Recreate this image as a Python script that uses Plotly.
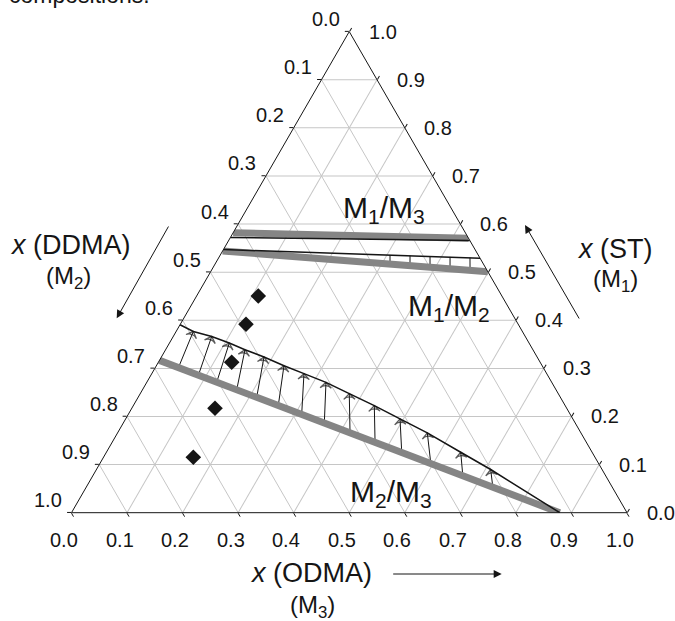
import math
import plotly.graph_objects as go

# ---------------- data (mole fractions: ST = M1, DDMA = M2, ODMA = M3) ----------------
tick_vals = [0.0, 0.1, 0.2, 0.3, 0.4, 0.5, 0.6, 0.7, 0.8, 0.9, 1.0]
tick_text = ["0.0", "0.1", "0.2", "0.3", "0.4", "0.5", "0.6", "0.7", "0.8", "0.9", "1.0"]

# M1/M3 boundary
m13_gray_st = [0.582, 0.5705]
m13_gray_odma = [0.0, 0.4295]
m13_black_st = [0.572, 0.5656]
m13_black_odma = [0.0, 0.4344]

# M1/M2 boundary
m12_gray_st = [0.544, 0.501]
m12_gray_odma = [0.0, 0.499]
m12_black_st = [0.547, 0.529]
m12_black_odma = [0.0, 0.471]

# M1/M2 short tie lines (from gray to black)
m12_tie_start_st = [0.5168, 0.5139, 0.5108, 0.5076, 0.5043]
m12_tie_start_odma = [0.315, 0.3524, 0.39, 0.4276, 0.4653]
m12_tie_end_st = [0.5355, 0.5344, 0.5330, 0.5317, 0.5303]
m12_tie_end_odma = [0.3056, 0.3422, 0.3789, 0.4156, 0.4522]

# M2/M3 boundary
m23_gray_st = [0.3166, 0.0]
m23_gray_odma = [0.0, 0.879]
m23_black_st = [0.3907, 0.3768, 0.3664, 0.3527, 0.3388, 0.3237, 0.3056, 0.289,
                0.271, 0.2475, 0.2226, 0.195, 0.166, 0.1257, 0.0898, 0.0]
m23_black_odma = [0.0, 0.0309, 0.0692, 0.1077, 0.1429, 0.1847, 0.2297, 0.274,
                  0.3226, 0.3763, 0.4338, 0.4939, 0.5575, 0.6378, 0.7097, 0.879]

# M2/M3 arrows (start on gray line, end on black curve)
m23_arrow_start_st = [0.3010, 0.2855, 0.2712, 0.2556, 0.2400, 0.2230, 0.2048,
                      0.1871, 0.1670, 0.1475, 0.1268, 0.1041, 0.0793, 0.0558]
m23_arrow_start_odma = [0.0418, 0.0856, 0.1258, 0.1696, 0.2134, 0.2608, 0.3120,
                        0.3616, 0.4179, 0.4727, 0.5310, 0.5946, 0.6646, 0.7303]
m23_arrow_end_st = [0.3768, 0.3664, 0.3527, 0.3388, 0.3237, 0.3056, 0.289,
                    0.271, 0.2475, 0.2226, 0.195, 0.166, 0.1257, 0.0898]
m23_arrow_end_odma = [0.0309, 0.0692, 0.1077, 0.1429, 0.1847, 0.2297, 0.274,
                      0.3226, 0.3763, 0.4338, 0.4939, 0.5575, 0.6378, 0.7097]

# experimental compositions (diamonds)
exp_st = [0.4505, 0.3916, 0.3126, 0.2170, 0.1152]
exp_odma = [0.1110, 0.1183, 0.1321, 0.1498, 0.1617]

# ---------------- layout geometry ----------------
W, H = 675, 621
TX0 = 71.5          # left vertex (px)
TY0 = 512.7         # bottom edge (px from top)
TW = 555.5          # side length (px)
TH = TW * math.sqrt(3) / 2

dom_x = [TX0 / W, (TX0 + TW) / W]
yc = 1 - (TY0 - TH / 2) / H
dom_y = [yc - TH / H / 2 - 0.004, yc + TH / H / 2 + 0.004]


def paper(st, odma, dx=0.0, dy=0.0):
    px = TX0 + (odma + st / 2) * TW + dx
    py = TY0 - st * TH + dy
    return px / W, 1 - py / H


FONT = "Liberation Sans, Arial, sans-serif"
GRAY = "#858585"
BLACK = "#151515"

fig = go.Figure()


def segs(s_st, s_od, e_st, e_od, head):
    a, c, sz = [], [], []
    for i in range(len(s_st)):
        a += [s_st[i], e_st[i], None]
        c += [s_od[i], e_od[i], None]
        sz += [0, head, 0]
    return a, c, sz


# arrows M2/M3
a, c, sz = segs(m23_arrow_start_st, m23_arrow_start_odma,
                m23_arrow_end_st, m23_arrow_end_odma, 8)
fig.add_trace(go.Scatterternary(
    a=a, c=c, mode="lines+markers",
    line=dict(color=BLACK, width=1),
    marker=dict(symbol="arrow-wide-open", size=sz, angleref="previous",
                color=BLACK, line=dict(color=BLACK, width=1.3)),
    hoverinfo="skip"))

# short tie lines M1/M2
a, c, sz = segs(m12_tie_start_st, m12_tie_start_odma,
                m12_tie_end_st, m12_tie_end_odma, 0)
fig.add_trace(go.Scatterternary(
    a=a, c=c, mode="lines", line=dict(color=BLACK, width=1), hoverinfo="skip"))

# gray boundaries
for st, od in [(m13_gray_st, m13_gray_odma), (m12_gray_st, m12_gray_odma),
               (m23_gray_st, m23_gray_odma)]:
    fig.add_trace(go.Scatterternary(a=st, c=od, mode="lines",
                                    line=dict(color=GRAY, width=7), hoverinfo="skip"))

# black boundaries
for st, od in [(m13_black_st, m13_black_odma), (m12_black_st, m12_black_odma),
               (m23_black_st, m23_black_odma)]:
    fig.add_trace(go.Scatterternary(a=st, c=od, mode="lines",
                                    line=dict(color=BLACK, width=1.5), hoverinfo="skip"))

# experimental points
fig.add_trace(go.Scatterternary(a=exp_st, c=exp_odma, mode="markers",
                                marker=dict(symbol="diamond", size=12, color=BLACK),
                                hoverinfo="skip"))

axis_common = dict(
    tickmode="array", tickvals=tick_vals, showticklabels=False,
    ticks="outside", ticklen=4, tickcolor=BLACK, tickwidth=1,
    linecolor=BLACK, linewidth=1, showline=True,
    showgrid=True, gridcolor="#c6c6c6", gridwidth=1,
    title=dict(text=""), min=0,
)

annotations = []
# tick labels
for v, t in zip(tick_vals, tick_text):
    # left edge: DDMA
    x, y = paper(1 - v, 0.0, -7.5, -12.5)
    annotations.append(dict(x=x, y=y, text=t, xanchor="right", yanchor="middle",
                            showarrow=False, font=dict(size=20, color=BLACK, family=FONT)))
    # right edge: ST
    x, y = paper(v, 1 - v, 17.5, 0)
    annotations.append(dict(x=x, y=y, text=t, xanchor="left", yanchor="middle",
                            showarrow=False, font=dict(size=20, color=BLACK, family=FONT)))
    # bottom edge: ODMA
    x, y = paper(0.0, v, -7.5, 27.5)
    annotations.append(dict(x=x, y=y, text=t, xanchor="center", yanchor="middle",
                            showarrow=False, font=dict(size=20, color=BLACK, family=FONT)))


def txt(px, py, text, size, anchor="center"):
    annotations.append(dict(x=px / W, y=1 - py / H, text=text, xanchor=anchor,
                            yanchor="middle", showarrow=False,
                            font=dict(size=size, color=BLACK, family=FONT)))


txt(69.7, 245, "<i>x</i> (DDMA)", 27)
txt(68, 277, "(M<sub>2</sub>)", 24)
txt(615, 249, "<i>x</i> (ST)", 27)
txt(615.8, 280, "(M<sub>1</sub>)", 24)
txt(310.8, 573.3, "<i>x</i> (ODMA)", 27)
txt(312.5, 606, "(M<sub>3</sub>)", 24)

txt(384, 210, "M<sub>1</sub>/M<sub>3</sub>", 30)
txt(448.8, 307, "M<sub>1</sub>/M<sub>2</sub>", 30)
txt(390.6, 493, "M<sub>2</sub>/M<sub>3</sub>", 30)

# partially visible caption text at the top
annotations.append(dict(x=7 / W, y=1 - 10 / H, text="compositions.", xanchor="left",
                        yanchor="bottom", showarrow=False,
                        font=dict(size=23, color=BLACK, family=FONT)))


def arrow(tip, tail):
    annotations.append(dict(x=tip[0] / W, y=1 - tip[1] / H, xref="paper", yref="paper",
                            ax=tail[0] - tip[0], ay=tail[1] - tip[1], text="",
                            showarrow=True, arrowhead=2, arrowsize=1.6, arrowwidth=1,
                            arrowcolor=BLACK))


arrow((116.7, 318.3), (169.3, 225))
arrow((525, 225), (580, 320))
arrow((501.7, 574), (391.7, 574))

fig.update_layout(
    width=W, height=H,
    margin=dict(l=0, r=0, t=0, b=0),
    paper_bgcolor="white",
    showlegend=False,
    ternary=dict(
        sum=1, domain=dict(x=dom_x, y=dom_y), bgcolor="white",
        aaxis=axis_common, baxis=axis_common, caxis=axis_common,
    ),
    annotations=annotations,
)

fig.write_html("out.html", config={"displayModeBar": False},
               post_script="document.body.style.margin='0px';")
